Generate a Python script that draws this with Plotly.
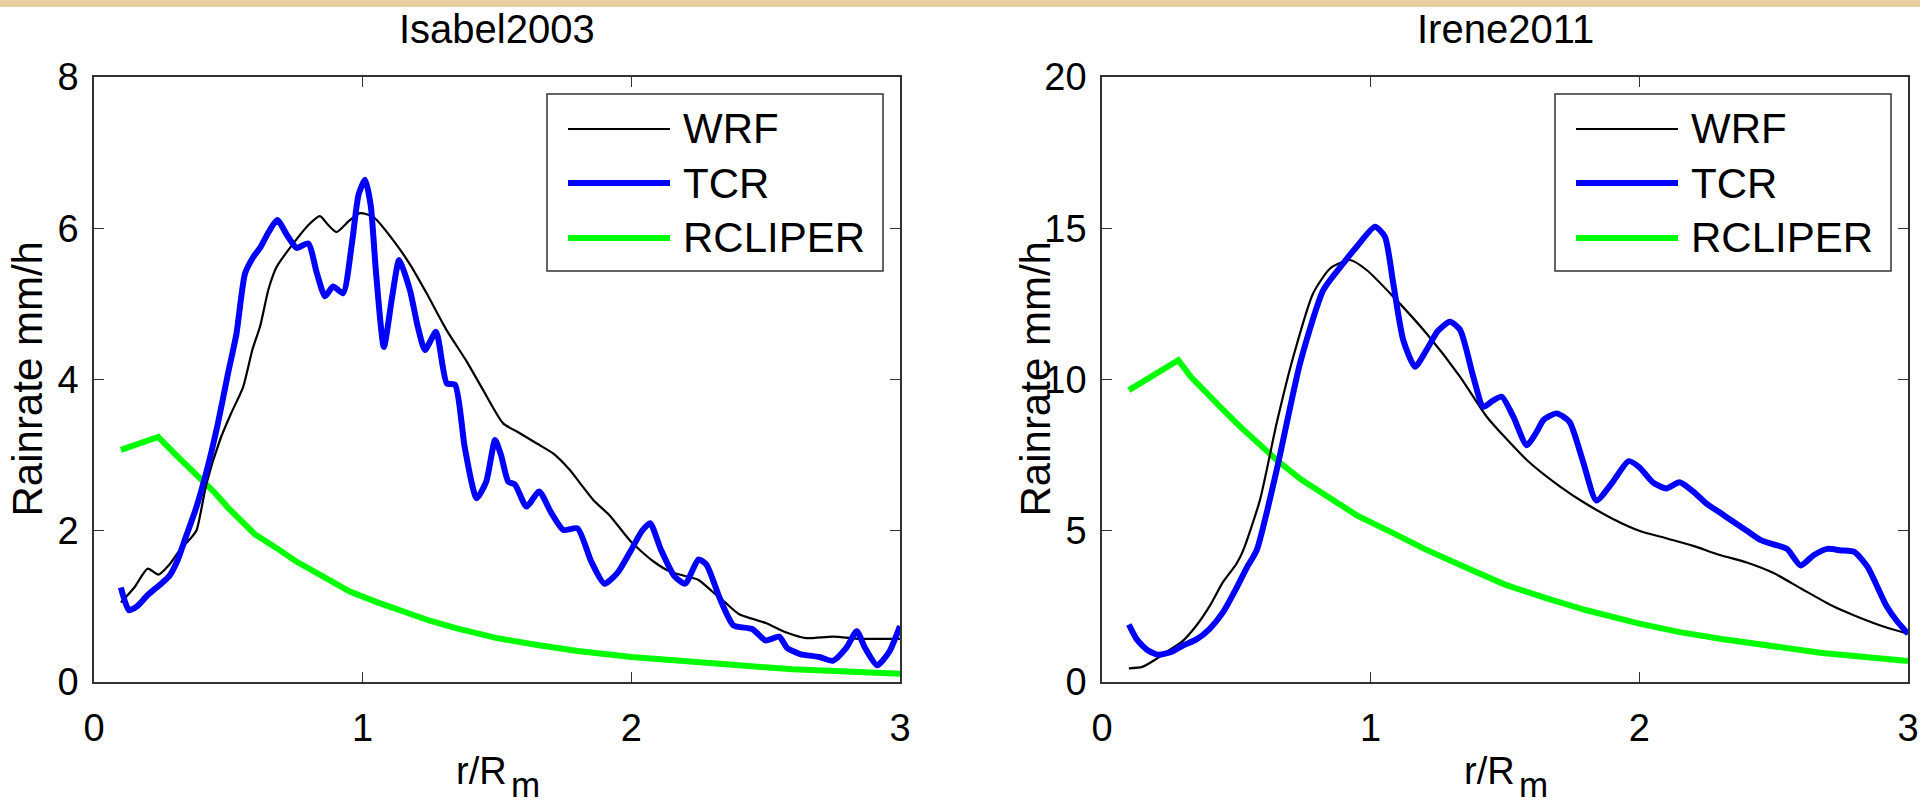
import plotly.graph_objects as go

# ---------------- data ----------------
titles = ["Isabel2003", "Irene2011"]
series_names = ["WRF", "TCR", "RCLIPER"]

isabel_tcr_x = [0.10, 0.13, 0.16, 0.20, 0.25, 0.28, 0.31, 0.34, 0.38, 0.42, 0.46, 0.50, 0.53, 0.562, 0.593,
                0.62, 0.65, 0.682, 0.72, 0.754, 0.797, 0.83, 0.860, 0.890, 0.927, 0.96, 0.985, 1.009, 1.03,
                1.05, 1.079, 1.11, 1.136, 1.176, 1.205, 1.232, 1.273, 1.313, 1.344, 1.38, 1.424, 1.46, 1.493,
                1.515, 1.542, 1.567, 1.61, 1.657, 1.70, 1.747, 1.80, 1.85, 1.90, 1.95, 2.00, 2.04, 2.07, 2.11,
                2.16, 2.20, 2.25, 2.28, 2.33, 2.38, 2.45, 2.50, 2.55, 2.58, 2.628, 2.70, 2.75, 2.80, 2.839,
                2.87, 2.915, 2.96, 3.00]
isabel_tcr_y = [1.25, 0.95, 1.00, 1.15, 1.30, 1.40, 1.60, 1.90, 2.30, 2.80, 3.40, 4.10, 4.60, 5.40, 5.62,
                5.75, 5.95, 6.11, 5.90, 5.74, 5.80, 5.40, 5.10, 5.23, 5.14, 5.80, 6.45, 6.64, 6.30,
                5.40, 4.43, 5.10, 5.58, 5.18, 4.70, 4.39, 4.63, 3.95, 3.93, 3.10, 2.43, 2.65, 3.20,
                3.00, 2.65, 2.61, 2.32, 2.52, 2.25, 2.01, 2.03, 1.60, 1.30, 1.45, 1.75, 2.00, 2.10, 1.75,
                1.40, 1.30, 1.62, 1.55, 1.10, 0.75, 0.70, 0.55, 0.60, 0.45, 0.37, 0.33, 0.28, 0.45, 0.67,
                0.45, 0.22, 0.40, 0.74]

isabel_wrf_x = [0.10, 0.15, 0.20, 0.24, 0.28, 0.32, 0.36, 0.382, 0.419, 0.469, 0.51, 0.555, 0.59, 0.618,
                0.65, 0.68, 0.742, 0.80, 0.841, 0.870, 0.903, 0.95, 0.990, 1.04, 1.114, 1.18, 1.238, 1.313,
                1.387, 1.45, 1.523, 1.585, 1.65, 1.71, 1.772, 1.809, 1.86, 1.92, 2.00, 2.08, 2.15, 2.25,
                2.30, 2.35, 2.40, 2.50, 2.58, 2.65, 2.75, 2.85, 2.92, 3.00]
isabel_wrf_y = [1.05, 1.25, 1.50, 1.42, 1.55, 1.75, 1.90, 2.01, 2.63, 3.20, 3.55, 3.90, 4.40, 4.70,
                5.20, 5.49, 5.80, 6.05, 6.16, 6.05, 5.95, 6.10, 6.20, 6.15, 5.84, 5.50, 5.14, 4.65,
                4.24, 3.85, 3.42, 3.29, 3.15, 3.02, 2.80, 2.63, 2.40, 2.20, 1.85, 1.60, 1.45, 1.35,
                1.20, 1.05, 0.90, 0.78, 0.65, 0.58, 0.60, 0.57, 0.57, 0.57]

isabel_rcl_x = [0.10, 0.17, 0.239, 0.30, 0.35, 0.40, 0.45, 0.50, 0.543, 0.60, 0.68, 0.75, 0.85, 0.95,
                1.05, 1.15, 1.25, 1.35, 1.50, 1.65, 1.80, 2.00, 2.20, 2.40, 2.60, 2.80, 3.00]
isabel_rcl_y = [3.07, 3.16, 3.24, 3.02, 2.85, 2.68, 2.50, 2.30, 2.14, 1.95, 1.77, 1.60, 1.40, 1.20,
                1.06, 0.93, 0.81, 0.71, 0.58, 0.49, 0.41, 0.33, 0.27, 0.22, 0.17, 0.14, 0.11]

irene_wrf_x = [0.10, 0.15, 0.20, 0.25, 0.30, 0.35, 0.40, 0.45, 0.50, 0.526, 0.588, 0.65, 0.712, 0.786,
               0.849, 0.923, 0.985, 1.084, 1.208, 1.333, 1.432, 1.581, 1.705, 1.80, 1.90, 2.00, 2.10,
               2.20, 2.30, 2.40, 2.50, 2.60, 2.72, 2.80, 2.92, 3.00]
irene_wrf_y = [0.45, 0.50, 0.75, 1.05, 1.35, 1.85, 2.50, 3.30, 3.90, 4.36, 6.02, 8.55, 10.75, 12.85,
               13.67, 13.95, 13.62, 12.74, 11.52, 10.09, 8.77, 7.34, 6.46, 5.90, 5.40, 5.00, 4.75,
               4.50, 4.20, 3.95, 3.60, 3.10, 2.51, 2.20, 1.80, 1.60]

irene_tcr_x = [0.10, 0.13, 0.17, 0.21, 0.26, 0.30, 0.35, 0.40, 0.45, 0.50, 0.54, 0.576, 0.65, 0.737,
               0.824, 0.898, 0.948, 1.016, 1.053, 1.084, 1.121, 1.165, 1.208, 1.25, 1.295, 1.333, 1.382,
               1.419, 1.455, 1.488, 1.531, 1.581, 1.62, 1.643, 1.692, 1.74, 1.79, 1.84, 1.90, 1.96,
               2.00, 2.05, 2.10, 2.15, 2.20, 2.25, 2.30, 2.35, 2.40, 2.45, 2.50, 2.55, 2.60, 2.65,
               2.70, 2.75, 2.80, 2.85, 2.92, 2.96, 3.00]
irene_tcr_y = [1.90, 1.40, 1.05, 0.90, 1.00, 1.20, 1.40, 1.75, 2.30, 3.10, 3.80, 4.36, 7.00, 10.53,
               12.96, 13.84, 14.39, 15.05, 14.72, 13.18, 11.31, 10.42, 10.98, 11.60, 11.91, 11.64, 10.09,
               9.10, 9.30, 9.43, 8.77, 7.83, 8.30, 8.66, 8.88, 8.60, 7.30, 6.00, 6.60, 7.30,
               7.10, 6.60, 6.40, 6.60, 6.30, 5.90, 5.60, 5.30, 5.00, 4.70, 4.55, 4.40, 3.85, 4.20,
               4.40, 4.35, 4.30, 3.80, 2.51, 2.00, 1.60]

irene_rcl_x = [0.10, 0.19, 0.284, 0.33, 0.377, 0.45, 0.514, 0.58, 0.65, 0.74, 0.836, 0.95, 1.084, 1.20,
               1.35, 1.50, 1.65, 1.80, 2.00, 2.15, 2.30, 2.50, 2.672, 2.85, 3.00]
irene_rcl_y = [9.65, 10.15, 10.64, 10.10, 9.65, 9.00, 8.44, 7.90, 7.34, 6.70, 6.13, 5.50, 4.92, 4.40,
               3.80, 3.22, 2.78, 2.38, 1.93, 1.65, 1.43, 1.17, 0.97, 0.82, 0.69]

x_ticks = [0, 1, 2, 3]
isabel_y_ticks = [0, 2, 4, 6, 8]
irene_y_ticks = [0, 5, 10, 15, 20]
y_label = "Rainrate mm/h"
x_label_main = "r/R"
x_label_sub = "m"

# ---------------- styling ----------------
FONT = "Liberation Sans, Arial, Helvetica, sans-serif"
colors = {"WRF": "#000000", "TCR": "#0000FF", "RCLIPER": "#00FF00"}
widths = {"WRF": 2.2, "TCR": 6, "RCLIPER": 6}
shapes_line = {"WRF": "spline", "TCR": "spline", "RCLIPER": "linear"}
AXC = "#333333"

W, H = 1920, 806
xdom = [(94 / W, 900 / W), (1102 / W, 1908 / W)]
ydom = ((H - 682) / H, (H - 77) / H)

fig = go.Figure()

panels = [
    ("x", "y", {"WRF": (isabel_wrf_x, isabel_wrf_y), "TCR": (isabel_tcr_x, isabel_tcr_y),
                "RCLIPER": (isabel_rcl_x, isabel_rcl_y)}),
    ("x2", "y2", {"WRF": (irene_wrf_x, irene_wrf_y), "TCR": (irene_tcr_x, irene_tcr_y),
                  "RCLIPER": (irene_rcl_x, irene_rcl_y)}),
]
for xa, ya, data in panels:
    for name in ["RCLIPER", "WRF", "TCR"]:
        xs, ys = data[name]
        line = dict(color=colors[name], width=widths[name], shape=shapes_line[name])
        if shapes_line[name] == "spline":
            line["smoothing"] = 0.6
        fig.add_trace(go.Scatter(x=xs, y=ys, mode="lines", name=name, xaxis=xa, yaxis=ya,
                                 line=line, showlegend=False, hoverinfo="skip"))

axis_common = dict(showline=True, linecolor=AXC, linewidth=1.5, mirror="ticks", ticks="inside",
                   ticklen=10, tickwidth=1.3, tickcolor=AXC, showgrid=False, zeroline=False,
                   automargin=False, tickfont=dict(family=FONT, size=38, color="#000"))

fig.update_layout(
    width=W, height=H, margin=dict(l=0, r=0, t=0, b=0, autoexpand=False),
    paper_bgcolor="white", plot_bgcolor="white",
    xaxis=dict(domain=xdom[0], range=[0, 3], tickvals=x_ticks, anchor="y", ticklabelstandoff=12, **axis_common),
    yaxis=dict(domain=ydom, range=[0, 8], tickvals=isabel_y_ticks, anchor="x", ticklabelstandoff=6, **axis_common),
    xaxis2=dict(domain=xdom[1], range=[0, 3], tickvals=x_ticks, anchor="y2", ticklabelstandoff=12, **axis_common),
    yaxis2=dict(domain=ydom, range=[0, 20], tickvals=irene_y_ticks, anchor="x2", ticklabelstandoff=6, **axis_common),
    showlegend=False,
)

# parchment strip at the top edge
fig.add_shape(type="rect", xref="paper", yref="paper", x0=0, x1=1, y0=(H - 7) / H, y1=1,
              line=dict(width=0), fillcolor="#E6CFA0", layer="below")

shapes = []
annotations = []
for i, (xa, ya) in enumerate([("x", "y"), ("x2", "y2")]):
    xd = f"{xa} domain"
    yd = f"{ya} domain"
    cx = (xdom[i][0] + xdom[i][1]) / 2
    # title
    annotations.append(dict(text=titles[i], xref="paper", yref="paper", x=cx, y=(H - 29) / H,
                            xanchor="center", yanchor="middle", showarrow=False,
                            font=dict(family=FONT, size=40, color="#000")))
    # x label: main part and same-size subscript
    annotations.append(dict(text=x_label_main, xref="paper", yref="paper", x=(cx * W - 16) / W,
                            y=(H - 771) / H, xanchor="center", yanchor="middle", showarrow=False,
                            font=dict(family=FONT, size=38, color="#000")))
    annotations.append(dict(text=x_label_sub, xref="paper", yref="paper", x=(cx * W + 12) / W,
                            y=0, xanchor="left", yanchor="bottom", showarrow=False,
                            font=dict(family=FONT, size=35, color="#000")))
    # y label
    annotations.append(dict(text=y_label, xref="paper", yref="paper",
                            x=(xdom[i][0] * W - 67) / W, y=(ydom[0] + ydom[1]) / 2,
                            xanchor="center", yanchor="middle", showarrow=False, textangle=-90,
                            font=dict(family=FONT, size=42, color="#000")))
    # legend box
    shapes.append(dict(type="rect", xref=xd, yref=yd, x0=(547 - 94) / 806, x1=(883 - 94) / 806,
                       y0=(682 - 271) / 605, y1=(682 - 94) / 605,
                       line=dict(color=AXC, width=1.5), fillcolor="white", layer="above"))
    for j, name in enumerate(series_names):
        yy = (682 - [129, 183, 238][j]) / 605
        shapes.append(dict(type="line", xref=xd, yref=yd, x0=(568 - 94) / 806, x1=(670 - 94) / 806,
                           y0=yy, y1=yy, line=dict(color=colors[name], width=widths[name]),
                           layer="above"))
        annotations.append(dict(text=name, xref=xd, yref=yd, x=(681 - 94) / 806, y=yy,
                                xanchor="left", yanchor="middle", showarrow=False,
                                font=dict(family=FONT, size=42, color="#000")))

for s in shapes:
    fig.add_shape(**s)
fig.update_layout(annotations=annotations)

fig.write_html("out.html")
